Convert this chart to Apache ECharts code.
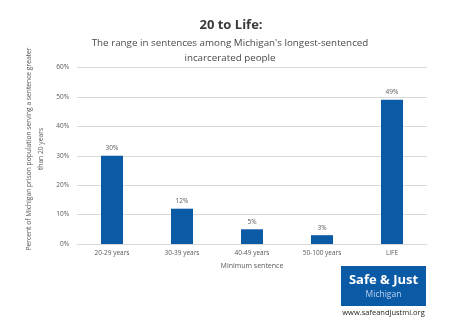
<!DOCTYPE html>
<html><head><meta charset="utf-8">
<script src="https://cdn.jsdelivr.net/npm/echarts@6/dist/echarts.min.js"></script>
<style>html,body{margin:0;padding:0;background:#fff}#c{width:474px;height:325px}</style>
</head><body><div id="c"></div>
<script>
const categories = ['20-29 years', '30-39 years', '40-49 years', '50-100 years', 'LIFE'];
const values = [30, 12, 5, 3, 49];
const yTicks = [0, 10, 20, 30, 40, 50, 60];
const F = 'Open Sans';
const chart = echarts.init(document.getElementById('c'), null, {renderer: 'canvas'});
chart.setOption({
  animation: false,
  backgroundColor: '#fff',
  title: [
    {text: '20 to Life:', left: 226, top: 14, textAlign: 'center',
     textStyle: {fontFamily: F, fontSize: 13, fontWeight: 'bold', color: '#3a3a3a'}},
    {text: 'The range in sentences among Michigan\'s longest-sentenced\nincarcerated people', left: 225, top: 31, textAlign: 'center',
     textStyle: {fontFamily: F, fontSize: 9.8, fontWeight: 'normal', color: '#4a4a4a', lineHeight: 15}}
  ],
  grid: {left: 77, right: 47, top: 67.5, bottom: 81, containLabel: false},
  xAxis: {
    type: 'category', data: categories,
    name: 'Minimum sentence', nameLocation: 'middle', nameGap: 18.5,
    nameTextStyle: {fontFamily: F, fontSize: 7, color: '#595959'},
    axisLine: {lineStyle: {color: '#d9d9d9'}},
    axisTick: {show: false},
    axisLabel: {fontFamily: F, fontSize: 6.5, color: '#595959', margin: 6}
  },
  yAxis: {
    type: 'value', min: yTicks[0], max: yTicks[yTicks.length - 1], interval: 10,
    axisLine: {show: false}, axisTick: {show: false},
    splitLine: {lineStyle: {color: '#d9d9d9'}},
    axisLabel: {fontFamily: F, fontSize: 6.5, color: '#595959', margin: 8, formatter: v => v + '%'}
  },
  series: [{
    type: 'bar', data: values, barWidth: 22,
    itemStyle: {color: '#0b5aa6'},
    label: {show: true, position: 'top', distance: 4, fontFamily: F, fontSize: 6.5, color: '#595959', formatter: p => p.value + '%'}
  }],
  graphic: [
    {type: 'text', x: 35, y: 149, rotation: Math.PI / 2,
     style: {text: 'Percent of Michigan prison population serving a sentence greater\nthan 20 years',
       fill: '#595959', font: '6.7px "Open Sans"', align: 'center', verticalAlign: 'middle', lineHeight: 12}},
    {type: 'rect', shape: {x: 341, y: 266, width: 85, height: 40}, style: {fill: '#0b5aa6'}},
    {type: 'text', style: {x: 383.5, y: 280, text: 'Safe & Just', fill: '#fff', font: 'bold 13px "Open Sans"', align: 'center', verticalAlign: 'middle'}},
    {type: 'text', style: {x: 383.5, y: 295, text: 'Michigan', fill: '#b9d3f0', font: '8.5px "Open Sans"', align: 'center', verticalAlign: 'middle'}},
    {type: 'text', style: {x: 383.5, y: 313, text: 'www.safeandjustmi.org', fill: '#222', font: '7.5px "Open Sans"', align: 'center', verticalAlign: 'middle'}}
  ]
});
</script></body></html>
